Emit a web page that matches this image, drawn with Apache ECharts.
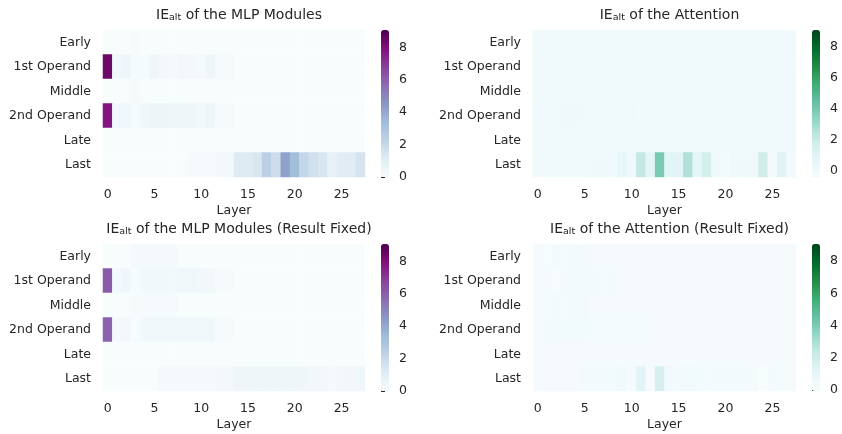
<!DOCTYPE html>
<html>
<head>
<meta charset="utf-8">
<script src="https://cdn.jsdelivr.net/npm/echarts@6/dist/echarts.min.js"></script>
<style>
html, body { margin: 0; padding: 0; background: #fff; }
#chart { width: 842px; height: 434px; }
</style>
</head>
<body>
<div id="chart"></div>
<script>
// categories
const layers = ['0','1','2','3','4','5','6','7','8','9','10','11','12','13',
  '14','15','16','17','18','19','20','21','22','23','24','25','26','27']
const stages = ['Early', '1st Operand', 'Middle', '2nd Operand', 'Late', 'Last']
const colorTicks = [0, 2, 4, 6, 8]

// IE_alt values, one row per stage, 28 layers each
const mlpValues = [
  [0.02,0.02,0.02,0.12,0.02,0.02,0.02,0.02,0.02,0.02,0.02,0.02,0.02,0.02,0.02,0.02,0.02,0.02,0.02,0.02,0.02,0.02,0.02,0.02,0.02,0.02,0.02,0.02],
  [8.4,0.3,0.45,0.1,0.1,0.42,0.25,0.14,0.32,0.25,0.18,0.45,0.12,0.12,0.02,0.02,0.02,0.02,0.02,0.02,0.02,0.02,0.02,0.02,0.02,0.02,0.02,0.02],
  [0.02,0.02,0.02,0.1,0.02,0.02,0.02,0.02,0.02,0.02,0.02,0.02,0.02,0.02,0.02,0.02,0.02,0.02,0.02,0.02,0.02,0.02,0.02,0.02,0.02,0.02,0.02,0.02],
  [7.8,0.3,0.38,0.1,0.38,0.5,0.5,0.42,0.42,0.42,0.28,0.42,0.12,0.12,0.02,0.02,0.02,0.02,0.02,0.02,0.02,0.02,0.02,0.02,0.02,0.02,0.02,0.02],
  [0.02,0.02,0.02,0.02,0.02,0.02,0.02,0.02,0.02,0.02,0.02,0.02,0.02,0.02,0.02,0.02,0.02,0.02,0.02,0.02,0.02,0.02,0.02,0.02,0.02,0.02,0.02,0.02],
  [0.02,0.02,0.02,0.02,0.02,0.02,0.02,0.02,0.02,0.1,0.1,0.1,0.25,0.25,1.2,1.2,1.4,2.4,1.8,4.2,3.3,2.1,1.7,1.4,0.8,1.1,1.1,1.5]
]
const attnValues = [
  [0.05,0.05,0.0,0.05,0.05,0.05,0.05,0.05,0.05,0.05,0.05,0.05,0.05,0.05,0.05,0.05,0.05,0.05,0.05,0.05,0.05,0.05,0.05,0.05,0.05,0.05,0.05,0.05],
  [0.05,0.05,0.05,0.05,0.05,0.05,0.05,0.05,0.05,0.05,0.05,0.05,0.05,0.05,0.05,0.05,0.05,0.05,0.05,0.05,0.05,0.05,0.05,0.05,0.05,0.05,0.05,0.05],
  [0.05,0.05,0.0,0.05,0.05,0.05,0.05,0.05,0.05,0.05,0.05,0.05,0.05,0.05,0.05,0.05,0.05,0.05,0.05,0.05,0.05,0.05,0.05,0.05,0.05,0.05,0.05,0.05],
  [0.05,0.0,0.02,0.25,0.1,0.1,0.05,0.05,0.05,0.05,0.1,0.05,0.05,0.05,0.05,0.05,0.05,0.05,0.05,0.05,0.05,0.05,0.05,0.05,0.05,0.05,0.05,0.05],
  [0.05,0.05,0.05,0.05,0.05,0.05,0.05,0.05,0.05,0.05,0.05,0.05,0.05,0.05,0.05,0.05,0.05,0.05,0.05,0.05,0.05,0.05,0.05,0.05,0.05,0.05,0.05,0.05],
  [0.05,0.05,0.05,0.05,0.05,0.05,0.12,0.08,0.02,0.55,0.1,2.1,0.8,3.9,0.95,0.85,2.6,0.75,1.6,0.12,-0.1,0.12,0.08,0.08,1.75,-0.08,1.0,-0.08]
]
const mlpFixedValues = [
  [0.02,0.02,0.02,0.14,0.14,0.14,0.14,0.14,0.02,0.02,0.02,0.02,0.02,0.02,0.02,0.02,0.02,0.02,0.02,0.02,0.02,0.02,0.02,0.02,0.02,0.02,0.02,0.02],
  [6.1,0.18,0.35,0.06,0.28,0.28,0.28,0.28,0.38,0.38,0.32,0.32,0.1,0.1,0.02,0.02,0.02,0.02,0.02,0.02,0.02,0.02,0.02,0.02,0.02,0.02,0.02,0.02],
  [0.02,0.02,0.02,0.1,0.1,0.1,0.1,0.1,0.02,0.02,0.02,0.02,0.02,0.02,0.02,0.02,0.02,0.02,0.02,0.02,0.02,0.02,0.02,0.02,0.02,0.02,0.02,0.02],
  [5.9,0.2,0.32,0.06,0.28,0.38,0.38,0.38,0.38,0.35,0.35,0.35,0.1,0.1,0.02,0.02,0.02,0.02,0.02,0.02,0.02,0.02,0.02,0.02,0.02,0.02,0.02,0.02],
  [0.02,0.02,0.02,0.02,0.02,0.02,0.02,0.02,0.02,0.02,0.02,0.02,0.02,0.02,0.02,0.02,0.02,0.02,0.02,0.02,0.02,0.02,0.02,0.02,0.02,0.02,0.02,0.02],
  [0.02,0.02,0.02,0.02,0.02,0.02,0.14,0.14,0.14,0.14,0.14,0.14,0.25,0.25,0.45,0.45,0.45,0.42,0.42,0.42,0.42,0.35,0.32,0.32,0.18,0.32,0.32,0.38]
]
const attnFixedValues = [
  [0.08,0.02,0.25,0.08,0.25,0.25,0.08,0.08,0.08,0.08,0.08,0.08,0.08,0.08,0.08,0.08,0.08,0.08,0.08,0.08,0.08,0.08,0.08,0.08,0.08,0.08,0.08,0.08],
  [0.08,0.08,0.02,0.25,0.25,0.25,0.25,0.08,0.2,0.08,0.08,0.08,0.08,0.08,0.08,0.08,0.08,0.08,0.08,0.08,0.08,0.08,0.08,0.08,0.08,0.08,0.08,0.08],
  [0.08,0.08,0.25,0.08,0.2,0.2,0.08,0.08,0.08,0.08,0.08,0.08,0.08,0.08,0.08,0.08,0.08,0.08,0.08,0.08,0.08,0.08,0.08,0.08,0.08,0.08,0.08,0.08],
  [0.08,0.2,0.2,0.3,0.3,0.3,0.18,0.18,0.18,0.18,0.18,0.18,0.18,0.08,0.08,0.08,0.08,0.08,0.08,0.08,0.08,0.08,0.08,0.08,0.08,0.08,0.08,0.08],
  [0.08,0.08,0.08,0.08,0.08,0.08,0.08,0.08,0.08,0.08,0.08,0.08,0.08,0.08,0.08,0.08,0.08,0.08,0.08,0.08,0.08,0.08,0.08,0.08,0.08,0.08,0.08,0.08],
  [0.08,0.08,0.08,0.08,0.08,0.28,0.28,0.28,0.2,0.4,0.1,1.2,0.04,1.7,0.35,0.28,0.4,0.3,0.04,0.28,0.28,0.2,0.2,0.28,-0.06,0.28,0.04,0.08]
]
const colorMin = [0, -0.43, 0, -0.06]
const colorMax = [9.07, 9.07, 9.07, 9.07]

const BuPu = ['#f7fcfd','#e0ecf4','#bfd3e6','#9ebcda','#8c96c6','#8c6bb1','#88419d','#810f7c','#4d004b']
const BuGn = ['#f7fcfd','#e5f5f9','#ccece6','#99d8c9','#66c2a4','#41ae76','#238b45','#006d2c','#00441b']

const font = 'DejaVu Sans'
const ink = '#262626'

const panels = [
  { name: 'of the MLP Modules', values: mlpValues, colors: BuPu, left: 103, top: 30, width: 262, cbLeft: 381 },
  { name: 'of the Attention', values: attnValues, colors: BuGn, left: 533, top: 30, width: 263, cbLeft: 812 },
  { name: 'of the MLP Modules (Result Fixed)', values: mlpFixedValues, colors: BuPu, left: 103, top: 244, width: 262, cbLeft: 381 },
  { name: 'of the Attention (Result Fixed)', values: attnFixedValues, colors: BuGn, left: 533, top: 244, width: 263, cbLeft: 812 }
]
const plotH = 147

const option = {
  backgroundColor: '#fff',
  animation: false,
  title: [], grid: [], xAxis: [], yAxis: [], series: [], visualMap: []
}

panels.forEach((p, i) => {
  option.title.push({
    text: '{ie|IE}{sub|alt} ' + p.name,
    left: p.left + p.width / 2,
    top: p.top - 27,
    textAlign: 'center',
    textStyle: {
      fontFamily: font, fontSize: 14, fontWeight: 'normal', color: ink,
      rich: {
        ie: { fontFamily: font, fontSize: 14, color: ink },
        sub: { fontFamily: font, fontSize: 9.5, color: ink, verticalAlign: 'bottom', padding: [5, 0, 0, 0] }
      }
    }
  })
  // heatmap grid
  option.grid.push({ left: p.left, top: p.top, width: p.width, height: plotH })
  option.xAxis.push({
    type: 'category', gridIndex: i, data: layers,
    axisLine: { show: false }, axisTick: { show: false }, splitLine: { show: false },
    axisLabel: { interval: 4, margin: 11, fontFamily: font, fontSize: 12.5, color: ink },
    name: 'Layer', nameLocation: 'middle', nameGap: 27,
    nameTextStyle: { fontFamily: font, fontSize: 12.5, color: ink }
  })
  option.yAxis.push({
    type: 'category', gridIndex: i, data: stages, inverse: true,
    axisLine: { show: false }, axisTick: { show: false }, splitLine: { show: false },
    axisLabel: { margin: 12, fontFamily: font, fontSize: 12.5, color: ink }
  })
  const data = []
  p.values.forEach((row, r) => row.forEach((v, c) => data.push([c, r, v])))
  option.series.push({
    type: 'heatmap', xAxisIndex: i, yAxisIndex: i, data: data,
    itemStyle: { borderWidth: 0 }, emphasis: { disabled: true }
  })
  option.visualMap.push({
    type: 'continuous', seriesIndex: i, min: colorMin[i], max: colorMax[i],
    inRange: { color: p.colors }, calculable: false, padding: 0,
    left: p.cbLeft, top: p.top, itemWidth: 8, itemHeight: plotH, text: null
  })
})

// colorbar tick axes laid over the visualMap bars
panels.forEach((p, i) => {
  const g = option.grid.length
  option.grid.push({ left: p.cbLeft, top: p.top, width: 8, height: plotH })
  option.xAxis.push({ type: 'value', gridIndex: g, show: false, min: 0, max: 1 })
  option.yAxis.push({
    type: 'value', gridIndex: g, position: 'right', min: colorMin[i], max: colorMax[i],
    axisLine: { show: false }, splitLine: { show: false },
    axisTick: { show: true, length: 4, customValues: colorTicks, lineStyle: { color: ink, width: 1 } },
    axisLabel: { customValues: colorTicks, margin: 10, fontFamily: font, fontSize: 12.5, color: ink }
  })
})

const myechart = echarts.init(document.getElementById('chart'), null, { renderer: 'canvas' })
myechart.setOption(option)
</script>
</body>
</html>
